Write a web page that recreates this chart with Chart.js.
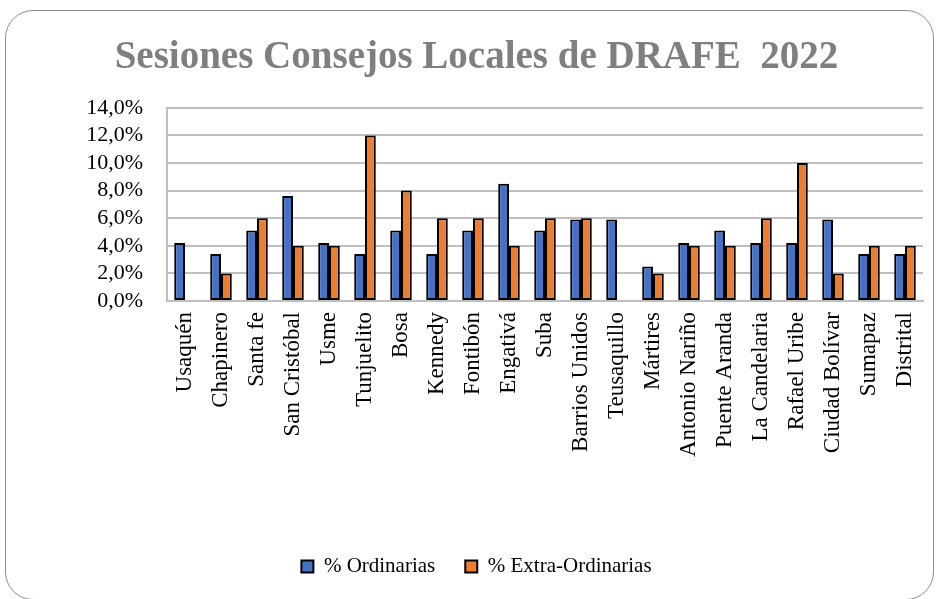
<!DOCTYPE html>
<html>
<head>
<meta charset="utf-8">
<script src="https://cdn.jsdelivr.net/npm/chart.js@4.4.0/dist/chart.umd.min.js"></script>
<style>
    html, body { margin: 0; padding: 0; background: #ffffff; }
    #frame {
        position: absolute; left: 5px; top: 10px; width: 929px; height: 590px;
        border: 1.5px solid #8c8c8c; border-radius: 28px; box-sizing: border-box;
    }
    #wrap { position: absolute; left: 0; top: 0; width: 938px; height: 599px; }
</style>
</head>
<body>
<div id="frame"></div>
<div id="wrap"><canvas id="sessionsChart"></canvas></div>
<script>
// Localidades y porcentajes de sesiones
const localidades = ['Usaquén', 'Chapinero', 'Santa fe', 'San Cristóbal', 'Usme', 'Tunjuelito', 'Bosa',
    'Kennedy', 'Fontibón', 'Engativá', 'Suba', 'Barrios Unidos', 'Teusaquillo', 'Mártires',
    'Antonio Nariño', 'Puente Aranda', 'La Candelaria', 'Rafael Uribe', 'Ciudad Bolívar', 'Sumapaz', 'Distrital'];
const ordinarias = [4.2, 3.4, 5.1, 7.6, 4.2, 3.4, 5.1, 3.4, 5.1, 8.5, 5.1, 5.9, 5.9, 2.5, 4.2, 5.1, 4.2, 4.2, 5.9, 3.4, 3.4];
const extraOrdinarias = [0, 2, 6, 4, 4, 12, 8, 6, 6, 4, 6, 6, 0, 2, 4, 4, 6, 10, 2, 4, 4];
const yTicks = [0, 2, 4, 6, 8, 10, 12, 14];

const serif = "'Liberation Serif', serif";
Chart.defaults.font.family = serif;
Chart.defaults.color = '#000000';

const ctx = document.getElementById('sessionsChart').getContext('2d');

new Chart(ctx, {
    type: 'bar',
    data: {
        labels: localidades,
        datasets: [
            {
                label: '% Ordinarias',
                data: ordinarias,
                backgroundColor: '#4472c4',
                borderColor: '#000000',
                borderWidth: 2,
                borderSkipped: false
            },
            {
                label: '% Extra-Ordinarias',
                data: extraOrdinarias,
                backgroundColor: '#ed7d31',
                borderColor: '#000000',
                borderWidth: 2,
                borderSkipped: false
            }
        ]
    },
    options: {
        responsive: true,
        maintainAspectRatio: false,
        animation: false,
        layout: { padding: { left: 30, right: 15, top: 35, bottom: 12 } },
        plugins: {
            title: {
                display: true,
                text: 'Sesiones Consejos Locales de DRAFE  2022',
                color: '#7f7f7f',
                font: { family: serif, size: 39, weight: 'bold' },
                padding: { top: 0, bottom: 26 }
            },
            legend: {
                position: 'bottom',
                labels: {
                    color: '#000000',
                    font: { family: serif, size: 21 },
                    boxWidth: 12,
                    boxHeight: 12,
                    padding: 30
                }
            },
            tooltip: { enabled: false }
        },
        datasets: {
            bar: { categoryPercentage: 0.6, barPercentage: 1.0 }
        },
        scales: {
            x: {
                grid: { display: false },
                border: { color: '#bfbfbf', width: 2 },
                ticks: {
                    color: '#000000',
                    font: { family: serif, size: 23 },
                    minRotation: 90,
                    maxRotation: 90,
                    autoSkip: false
                },
                afterFit: function (scale) { scale.height = 225; }
            },
            y: {
                min: 0,
                max: 14,
                afterBuildTicks: function (scale) {
                    scale.ticks = yTicks.map(v => ({ value: v }));
                },
                afterFit: function (scale) { scale.width = 137; },
                grid: { color: '#bfbfbf', lineWidth: 2, drawTicks: false },
                border: { color: '#bfbfbf', width: 2 },
                ticks: {
                    color: '#000000',
                    padding: 24,
                    autoSkip: false,
                    font: { family: serif, size: 22 },
                    callback: v => v.toFixed(1).replace('.', ',') + '%'
                }
            }
        }
    }
});
</script>
</body>
</html>
